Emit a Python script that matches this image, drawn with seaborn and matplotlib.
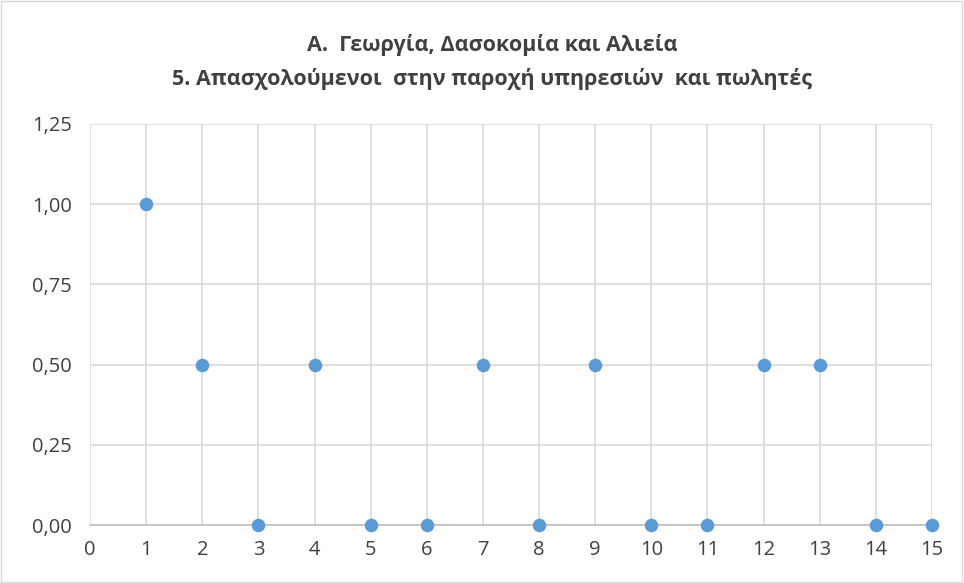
import seaborn as sns
import matplotlib.pyplot as plt
import pandas as pd
from matplotlib.ticker import MultipleLocator, FuncFormatter

title_lines = ["Α.  Γεωργία, Δασοκομία και Αλιεία",
               "5. Απασχολούμενοι  στην παροχή υπηρεσιών  και πωλητές"]
x_vals = [1, 2, 3, 4, 5, 6, 7, 8, 9, 10, 11, 12, 13, 14, 15]
y_vals = [1.0, 0.5, 0.0, 0.5, 0.0, 0.0, 0.5, 0.0, 0.5, 0.0, 0.0, 0.5, 0.5, 0.0, 0.0]

df = pd.DataFrame({"x": x_vals, "y": y_vals})

sns.set_theme(style="white")
plt.rcParams['font.family'] = ['Open Sans', 'DejaVu Sans']

fig = plt.figure(figsize=(9.64, 5.83), dpi=100)
ax = fig.add_axes([90/964, 58/583, (932-90)/964, (525-124)/583])

sns.scatterplot(data=df, x="x", y="y", ax=ax, color="#5B9BD5", s=95,
                edgecolor="#5B9BD5", linewidth=0, zorder=3, legend=False,
                clip_on=False)

ax.set_xlim(0, 15)
ax.set_ylim(0, 1.25)
ax.xaxis.set_major_locator(MultipleLocator(1))
ax.yaxis.set_major_locator(MultipleLocator(0.25))
ax.yaxis.set_major_formatter(FuncFormatter(lambda v, p: f"{v:.2f}".replace(".", ",")))
ax.grid(True, color="#D9D9D9", linewidth=1.2)
ax.set_axisbelow(True)
for s in ["top", "right", "left"]:
    ax.spines[s].set_visible(False)
ax.spines["bottom"].set_color("#BFBFBF")
ax.spines["bottom"].set_linewidth(1.2)
ax.set_xlabel("")
ax.set_ylabel("")
ax.tick_params(axis="both", length=0, labelsize=14.5, colors="#404040")
ax.tick_params(axis="y", pad=13)
ax.tick_params(axis="x", pad=11)

fig.text(492/964, 1 - 45/583, title_lines[0], ha="center", va="center",
         fontsize=15.5, fontweight="bold", color="#404040")
fig.text(492/964, 1 - 79/583, title_lines[1], ha="center", va="center",
         fontsize=15.5, fontweight="bold", color="#404040")

fig.patches.append(plt.Rectangle((0.001, 0.001), 0.997, 0.997, transform=fig.transFigure,
                                 fill=False, edgecolor="#D9D9D9", linewidth=1))

fig.savefig("out.png", dpi=100)
